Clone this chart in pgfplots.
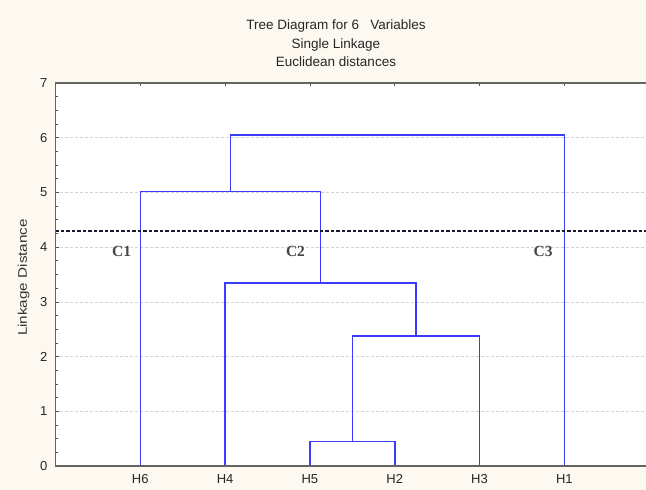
\documentclass[border=0pt]{standalone}
\usepackage{pgfplots}
\pgfplotsset{compat=1.18}
\usepackage{fontspec}
\setmainfont{Liberation Sans}
\newfontfamily\seriffont{Liberation Serif}
\definecolor{bgcream}{RGB}{253,249,240}
\definecolor{dendblue}{RGB}{60,60,255}
\definecolor{frame}{RGB}{100,100,100}
\definecolor{cutline}{RGB}{25,25,50}
\begin{document}
\begin{tikzpicture}[x=1bp,y=1bp]
\useasboundingbox (-55.5bp,-24bp) rectangle (590.5bp,466bp);
\fill[bgcream] (-55.5bp,-24bp) rectangle (590.5bp,466bp);
\node[align=center,font=\fontsize{13.5bp}{18.5bp}\selectfont,text=black!85,anchor=center] at (280.5bp,422.5bp)
  {Tree Diagram for 6\ \ \ Variables\\Single Linkage\\Euclidean distances};
\begin{axis}[
  at={(0,0)}, anchor=south west,
  scale only axis,
  width=590.5bp, height=383bp,
  xmin=0, xmax=6.963, ymin=0, ymax=7,
  axis background/.style={fill=white},
  axis line style={draw=none},
  xtick={1,2,3,4,5,6},
  xticklabels={H6,H4,H5,H2,H3,H1},
  xtick pos=both,
  ytick={0,1,2,3,4,5,6,7},
  ytick pos=left,
  minor y tick num=3,
  tick align=inside,
  major tick length=3.5bp,
  minor tick length=2.2bp,
  tick style={frame!80!black, line width=0.7bp},
  ymajorgrids,
  grid style={gray!35, dash pattern=on 3bp off 2bp, line width=0.6bp},
  /pgf/number format/assume math mode=true,
  ticklabel style={font=\fontsize{13bp}{14bp}\selectfont, text=black!85},
  yticklabel style={xshift=-4.5bp},
  xticklabel style={yshift=-4.5bp, text height=9.5bp, text depth=0bp},
  ylabel={\scalebox{1.22}[1]{Linkage Distance}},
  ylabel style={font=\fontsize{12.5bp}{14bp}\selectfont, text=black!80, yshift=4bp, xshift=-3bp},
  clip=false,
]
\addplot[dendblue, line width=1.6bp] coordinates {(3,0) (3,0.45) (4,0.45) (4,0)};
\addplot[dendblue, line width=1.6bp] coordinates {(3.5,0.45) (3.5,2.38) (5,2.38) (5,0)};
\addplot[dendblue, line width=1.6bp] coordinates {(4.25,2.38) (4.25,3.35) (2,3.35) (2,0)};
\addplot[dendblue, line width=1.6bp] coordinates {(3.125,3.35) (3.125,5.02) (1,5.02) (1,0)};
\addplot[dendblue, line width=1.6bp] coordinates {(2.0625,5.02) (2.0625,6.05) (6,6.05) (6,0)};
\addplot[cutline, line width=1.7bp, dash pattern=on 3.5bp off 2bp] coordinates {(0,4.3) (6.963,4.3)};
\node[font=\seriffont\bfseries\fontsize{15.5bp}{18bp}\selectfont, text=black!72] at (axis cs:0.78,3.92) {C1};
\node[font=\seriffont\bfseries\fontsize{15.5bp}{18bp}\selectfont, text=black!72] at (axis cs:2.83,3.92) {C2};
\node[font=\seriffont\bfseries\fontsize{15.5bp}{18bp}\selectfont, text=black!72] at (axis cs:5.75,3.92) {C3};
\draw[frame, line width=1.4bp] (rel axis cs:1,0) -- (rel axis cs:0,0) -- (rel axis cs:0,1) -- (rel axis cs:1,1);
\end{axis}
\end{tikzpicture}
\end{document}
